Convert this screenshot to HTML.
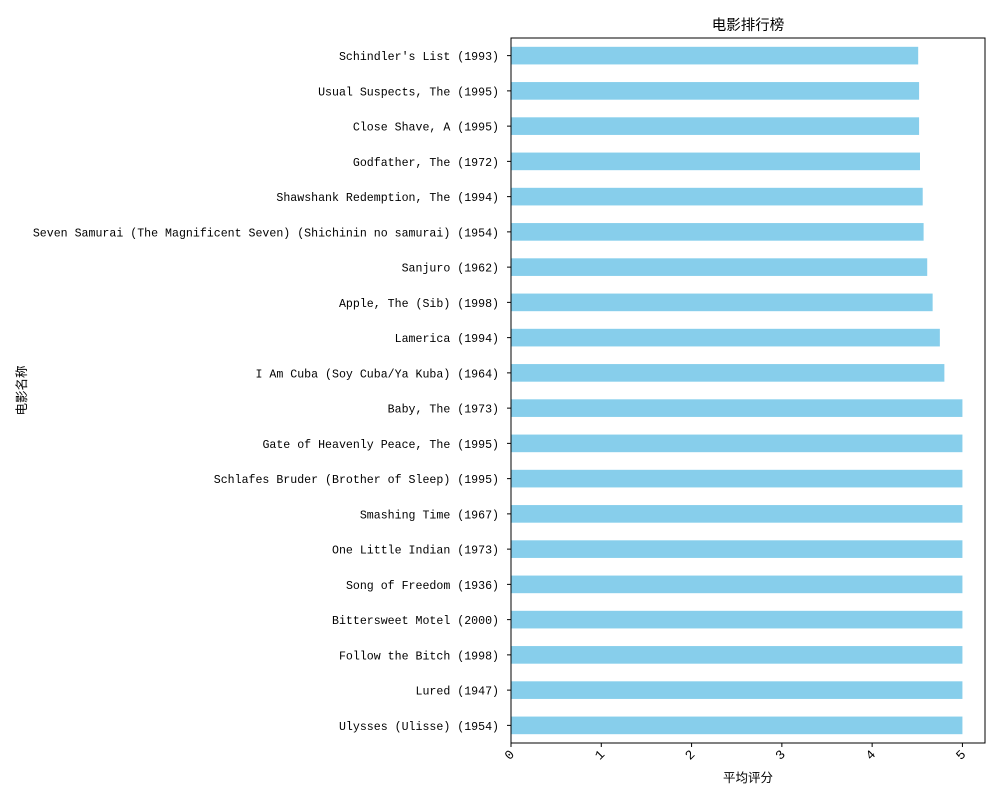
<!DOCTYPE html>
<html><head><meta charset="utf-8"><style>
body{margin:0;background:#fff}
svg text{font-family:"Liberation Mono","WenQuanYi Zen Hei","Noto Sans CJK SC",monospace;fill:#000}
</style></head><body>
<svg id="chart" width="1000" height="800">
<g id="bars"></g><g id="axes"></g>
</svg>
<script>
const categories=["Schindler's List (1993)","Usual Suspects, The (1995)","Close Shave, A (1995)","Godfather, The (1972)","Shawshank Redemption, The (1994)","Seven Samurai (The Magnificent Seven) (Shichinin no samurai) (1954)","Sanjuro (1962)","Apple, The (Sib) (1998)","Lamerica (1994)","I Am Cuba (Soy Cuba/Ya Kuba) (1964)","Baby, The (1973)","Gate of Heavenly Peace, The (1995)","Schlafes Bruder (Brother of Sleep) (1995)","Smashing Time (1967)","One Little Indian (1973)","Song of Freedom (1936)","Bittersweet Motel (2000)","Follow the Bitch (1998)","Lured (1947)","Ulysses (Ulisse) (1954)"];
const values=[4.51,4.52,4.52,4.53,4.56,4.57,4.61,4.67,4.75,4.80,5,5,5,5,5,5,5,5,5,5];
const xTicks=[0,1,2,3,4,5];
const L=511,R=985,T=38,B=743,xMax=5.25;
const NS="http://www.w3.org/2000/svg";
const xs=v=>L+(R-L)*v/xMax;
const band=(B-T)/categories.length;
const yc=i=>T+band*(i+0.5);
function mk(tag,attrs,parent,txt){const e=document.createElementNS(NS,tag);for(const k in attrs)e.setAttribute(k,attrs[k]);if(txt!==undefined)e.textContent=txt;parent.appendChild(e);return e;}
const bars=document.getElementById('bars'),axes=document.getElementById('axes');
categories.forEach((c,i)=>{
 const r=mk('rect',{x:L,y:yc(i)-band*0.25,width:xs(values[i])-L,height:band*0.5,fill:'#87ceeb'},bars);
 
 
 mk('line',{x1:L-4,x2:L,y1:yc(i),y2:yc(i),stroke:'#000'},axes);
 const t=mk('text',{x:L-12,y:yc(i)+4.5,'text-anchor':'end','font-size':'12',textLength:'',},axes,c);
 t.removeAttribute('textLength');
 t.setAttribute('font-size','11.6');
 
 
});
xTicks.forEach(v=>{
 const x=xs(v);
 mk('line',{x1:x,x2:x,y1:B,y2:B+4,stroke:'#000'},axes);
 const t=mk('text',{x:x+4,y:B+12,'text-anchor':'end','font-size':'13',transform:`rotate(-45 ${x+4} ${B+12})`},axes,String(v));
 
 
});
const f=mk('rect',{x:L,y:T,width:R-L,height:B-T,fill:'none',stroke:'#000','stroke-width':1},axes);


const ti=mk('text',{x:(L+R)/2,y:30,'text-anchor':'middle','font-size':'14.5'},axes,'电影排行榜');


const xl=mk('text',{x:(L+R)/2,y:782,'text-anchor':'middle','font-size':'12.5'},axes,'平均评分');


const yl=mk('text',{x:26,y:(T+B)/2,'text-anchor':'middle','font-size':'12.5',transform:`rotate(-90 26 ${(T+B)/2})`},axes,'电影名称');


</script>
</body></html>
